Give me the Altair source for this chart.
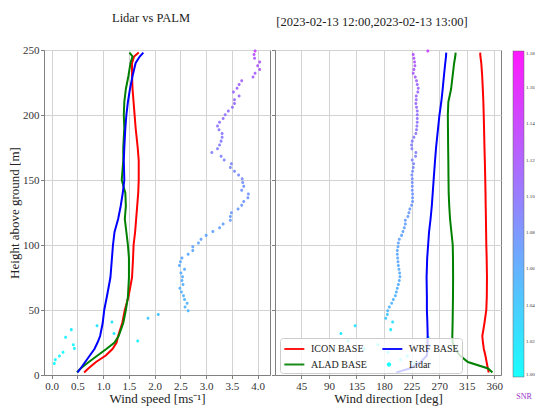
import altair as alt
import pandas as pd

FONT = "Liberation Serif"

# ---------------- Lidar profile (range gates) ----------------
lidar_height = [8.8, 11.7, 14.6, 17.5, 20.4, 23.3, 26.2, 29.1, 32.0, 34.9,
                37.8, 40.7, 43.6, 46.5, 49.4, 52.3, 55.2, 58.1, 61.0, 63.9,
                66.8, 69.7, 72.6, 75.5, 78.4, 81.3, 84.2, 87.1, 90.0, 92.9,
                95.8, 98.7, 101.6, 104.5, 107.4, 110.3, 113.2, 116.1, 119.0, 121.9,
                124.8, 127.7, 130.6, 133.5, 136.4, 139.3, 142.2, 145.1, 148.0, 150.9,
                153.8, 156.7, 159.6, 162.5, 165.4, 168.3, 171.2, 174.1, 177.0, 179.9,
                182.8, 185.7, 188.6, 191.5, 194.4, 197.3, 200.2, 203.1, 206.0, 208.9,
                211.8, 214.7, 217.6, 220.5, 223.4, 226.3, 229.2, 232.1, 235.0, 237.9,
                240.8, 243.7, 246.6, 249.3]
lidar_speed = [0.05, 0.07, 0.15, 0.22, 0.44, 0.42, 1.67, 0.27, 1.21, 0.38,
               0.88, 1.17, 1.87, 2.07, 2.65, 2.59, 2.63, 2.58, 2.56, 2.52,
               2.49, 2.55, 2.53, 2.54, 2.51, 2.58, 2.48, 2.50, 2.53, 2.65,
               2.74, 2.74, 2.85, 2.90, 3.00, 3.13, 3.26, 3.33, 3.47, 3.47,
               3.49, 3.62, 3.69, 3.73, 3.81, 3.82, 3.69, 3.73, 3.71, 3.70,
               3.63, 3.55, 3.47, 3.49, 3.35, 3.29, 3.11, 3.22, 3.26, 3.29,
               3.31, 3.31, 3.25, 3.22, 3.26, 3.33, 3.37, 3.43, 3.51, 3.55,
               3.55, 3.64, 3.53, 3.60, 3.64, 3.69, 3.91, 3.95, 4.04, 4.00,
               4.04, 3.94, 3.93, 3.95]
lidar_dir = [230, 207, 218, 186.5, 147.5, 170, 120.9, 252, 109.6, 190.9,
             132.8, 194.1, 182.8, 185.5, 186, 188.7, 192.5, 195.2, 198.5, 200.1,
             201.7, 203.4, 205, 206, 205.5, 204.4, 203.4, 202.8, 202.2, 201.7,
             201.7, 202.8, 203.4, 205, 208.7, 210.9, 213.1, 214.8, 214.8, 219,
             220.6, 222.2, 225, 226.6, 226.6, 226.6, 226.1, 226.1, 226.1, 226.1,
             225.5, 226.6, 227.7, 228.3, 226.1, 231.5, 232.0, 225.5, 225, 226.1,
             228.8, 232.0, 233.1, 233.7, 234.3, 234.3, 234.3, 234.3, 233.1, 232.0,
             232.6, 232.6, 235.2, 235.9, 234.3, 233.1, 231.0, 227.7, 228.8, 230.4,
             229.9, 228.8, 227.7, 251.5]
lidar_snr = [1.000, 1.004, 1.008, 1.006, 1.010, 1.008, 1.012, 1.010, 1.016, 1.014,
             1.020, 1.024, 1.040, 1.044, 1.052, 1.054, 1.055, 1.056, 1.056, 1.057,
             1.058, 1.058, 1.059, 1.060, 1.060, 1.061, 1.060, 1.061, 1.062, 1.062,
             1.063, 1.064, 1.064, 1.066, 1.066, 1.067, 1.068, 1.069, 1.071, 1.071,
             1.072, 1.073, 1.075, 1.075, 1.076, 1.077, 1.079, 1.079, 1.080, 1.082,
             1.082, 1.084, 1.085, 1.086, 1.088, 1.089, 1.090, 1.091, 1.093, 1.094,
             1.095, 1.096, 1.097, 1.099, 1.100, 1.101, 1.102, 1.103, 1.105, 1.106,
             1.107, 1.108, 1.109, 1.110, 1.112, 1.113, 1.115, 1.116, 1.118, 1.120,
             1.122, 1.124, 1.126, 1.140]

# ---------------- Model profiles ----------------
model_height = [2, 5, 10, 15, 20, 25, 30, 40, 50, 60, 75, 90, 100, 110, 120,
                130, 140, 150, 165, 175, 190, 200, 210, 220, 230, 240, 245, 248]
icon_speed = [0.63, 0.71, 0.86, 1.05, 1.18, 1.26, 1.29, 1.37, 1.42, 1.49, 1.56, 1.58, 1.59, 1.62, 1.64,
              1.66, 1.68, 1.69, 1.69, 1.67, 1.63, 1.61, 1.59, 1.57, 1.56, 1.56, 1.60, 1.69]
alad_speed = [0.49, 0.56, 0.72, 0.89, 1.06, 1.22, 1.30, 1.39, 1.44, 1.48, 1.50, 1.50, 1.48, 1.45, 1.42,
              1.44, 1.43, 1.36, 1.39, 1.39, 1.41, 1.40, 1.41, 1.44, 1.49, 1.53, 1.57, 1.51]
wrf_speed = [0.50, 0.56, 0.65, 0.74, 0.83, 0.89, 0.94, 0.99, 1.02, 1.07, 1.14, 1.17, 1.19, 1.22, 1.29,
             1.34, 1.38, 1.41, 1.40, 1.41, 1.43, 1.45, 1.48, 1.52, 1.57, 1.63, 1.71, 1.78]
icon_dir = [351, 349.5, 347.5, 345.5, 343, 341.5, 340.5, 344, 347, 347.8, 348.1, 347.6, 347, 346.7, 346.4,
            346, 345.7, 345.3, 344.6, 344, 343.3, 342.8, 342.2, 341.3, 340.3, 338.8, 337.4, 337]
alad_dir = [357, 350, 317, 304, 296, 292, 291.5, 292, 292.3, 292.6, 292.8, 292.6, 292.2, 290, 287.8,
            286.5, 285.6, 285.3, 285, 284.7, 284.4, 284.2, 285, 289.5, 292, 294.5, 296.3, 297]
wrf_dir = [200, 222, 240, 250, 251, 251, 251.3, 250.8, 250, 250, 249.5, 250.5, 252, 253.5, 256,
           258, 259.5, 261, 263.3, 265, 268.3, 270.5, 273.5, 275.8, 277.8, 280, 281.2, 281.6]

series_order = ["ICON BASE", "ALAD BASE", "WRF BASE", "Lidar"]
series_colors = ["#ff0000", "#008000", "#0000ff", "#00ffff"]
LINE_PATH = "M-1,0H2"
DOT_PATH = "M-0.18,0A0.18,0.18,0,1,0,0.18,0A0.18,0.18,0,1,0,-0.18,0Z"

speed_ticks = [0.0, 0.5, 1.0, 1.5, 2.0, 2.5, 3.0, 3.5, 4.0]
dir_ticks = [45, 90, 135, 180, 225, 270, 315, 360]
height_ticks = [0, 50, 100, 150, 200, 250]
snr_ticks = [1.00, 1.02, 1.04, 1.06, 1.08, 1.10, 1.12, 1.14, 1.16, 1.18]

lidar_df = pd.DataFrame({"h": lidar_height, "speed": lidar_speed, "dir": lidar_dir,
                         "snr": lidar_snr, "series": "Lidar"})
rows = []
for name, sp, di in [("ICON BASE", icon_speed, icon_dir),
                     ("ALAD BASE", alad_speed, alad_dir),
                     ("WRF BASE", wrf_speed, wrf_dir)]:
    for h, s, d in zip(model_height, sp, di):
        rows.append({"h": h, "speed": s, "dir": d, "series": name})
model_df = pd.DataFrame(rows)

series_legend = alt.Legend(
    title=None, orient="none", legendX=236, legendY=288, columns=2,
    symbolSize=178, symbolStrokeWidth=2, symbolFillColor="#00ffff",
    labelFont=FONT, labelFontSize=10, labelColor="#222", labelOffset=12,
    columnPadding=11, rowPadding=2.5, padding=3,
    fillColor="rgba(255,255,255,0.8)", strokeColor="#cccccc", cornerRadius=3,
)
stroke_enc = alt.Stroke("series:N", scale=alt.Scale(domain=series_order, range=series_colors),
                        legend=series_legend)
shape_enc = alt.Shape("series:N", scale=alt.Scale(domain=series_order,
                                                  range=[LINE_PATH, LINE_PATH, LINE_PATH, DOT_PATH]),
                      legend=series_legend)
fill_enc = alt.Fill("snr:Q",
                    scale=alt.Scale(domain=[1.0, 1.18], range=["#00ffff", "#ff00ff"], interpolate="rgb"),
                    legend=alt.Legend(title="SNR", orient="none", legendX=469, legendY=1,
                                      direction="vertical", gradientLength=326, gradientThickness=11,
                                      gradientStrokeColor="#555", gradientStrokeWidth=0.5,
                                      values=snr_ticks, format=".2f", labelOverlap=False,
                                      labelFont=FONT, labelFontSize=5, labelColor="#333",
                                      titleOrient="bottom", titleAnchor="middle", titleFont=FONT,
                                      titleFontSize=8, titleFontWeight="normal", titleColor="#9932cc",
                                      titlePadding=16, padding=0))


def panel(xfield, domain, ticks, fmt, xtitle, title, dx, show_y):
    x = alt.X(f"{xfield}:Q", scale=alt.Scale(domain=domain, nice=False, zero=False),
              axis=alt.Axis(values=ticks, format=fmt, title=xtitle))
    if show_y:
        yaxis = alt.Axis(values=height_ticks, title="Height above ground [m]", format="d")
    else:
        yaxis = alt.Axis(values=height_ticks, title=None, labels=False)
    y = alt.Y("h:Q", scale=alt.Scale(domain=[0, 250], nice=False), axis=yaxis)
    pts = alt.Chart(lidar_df).mark_point(filled=True, size=280, strokeWidth=0, opacity=0.9).encode(
        x=x, y=y, fill=fill_enc, shape=shape_enc)
    lines = alt.Chart(model_df).mark_line(strokeWidth=2).encode(
        x=x, y=y, stroke=stroke_enc, order=alt.Order("h:Q"))
    return alt.layer(pts, lines).properties(
        width=226, height=325,
        title=alt.TitleParams(title, dx=dx))


left = panel("speed", [-0.15, 4.24], speed_ticks, ".1f", "Wind speed [ms⁻¹]", "Lidar vs PALM", -6, True)
right = panel("dir", [2, 371], dir_ticks, "d", "Wind direction [deg]",
              "[2023-02-13 12:00,2023-02-13 13:00]", -16, False)

chart = alt.hconcat(left, right, spacing=5, bounds="flush").resolve_scale(
    stroke="shared", shape="shared", fill="shared"
).properties(
    padding={"left": 0, "top": 3, "right": 0, "bottom": 0}
).configure_axis(
    labelFont=FONT, titleFont=FONT, labelFontSize=11, titleFontSize=13,
    titleFontWeight="normal", labelColor="#333", titleColor="#222",
    gridColor="#d3d3d3", gridWidth=1, domainColor="#808080", tickColor="#808080",
    tickSize=3.5, labelPadding=1.5, titlePadding=1,
).configure_view(
    stroke="#808080", strokeWidth=1
).configure_title(
    font=FONT, fontSize=12.5, fontWeight="normal", color="#222", anchor="middle", offset=20
)

chart.save("out.html", embed_options={"renderer": "svg", "actions": False})
